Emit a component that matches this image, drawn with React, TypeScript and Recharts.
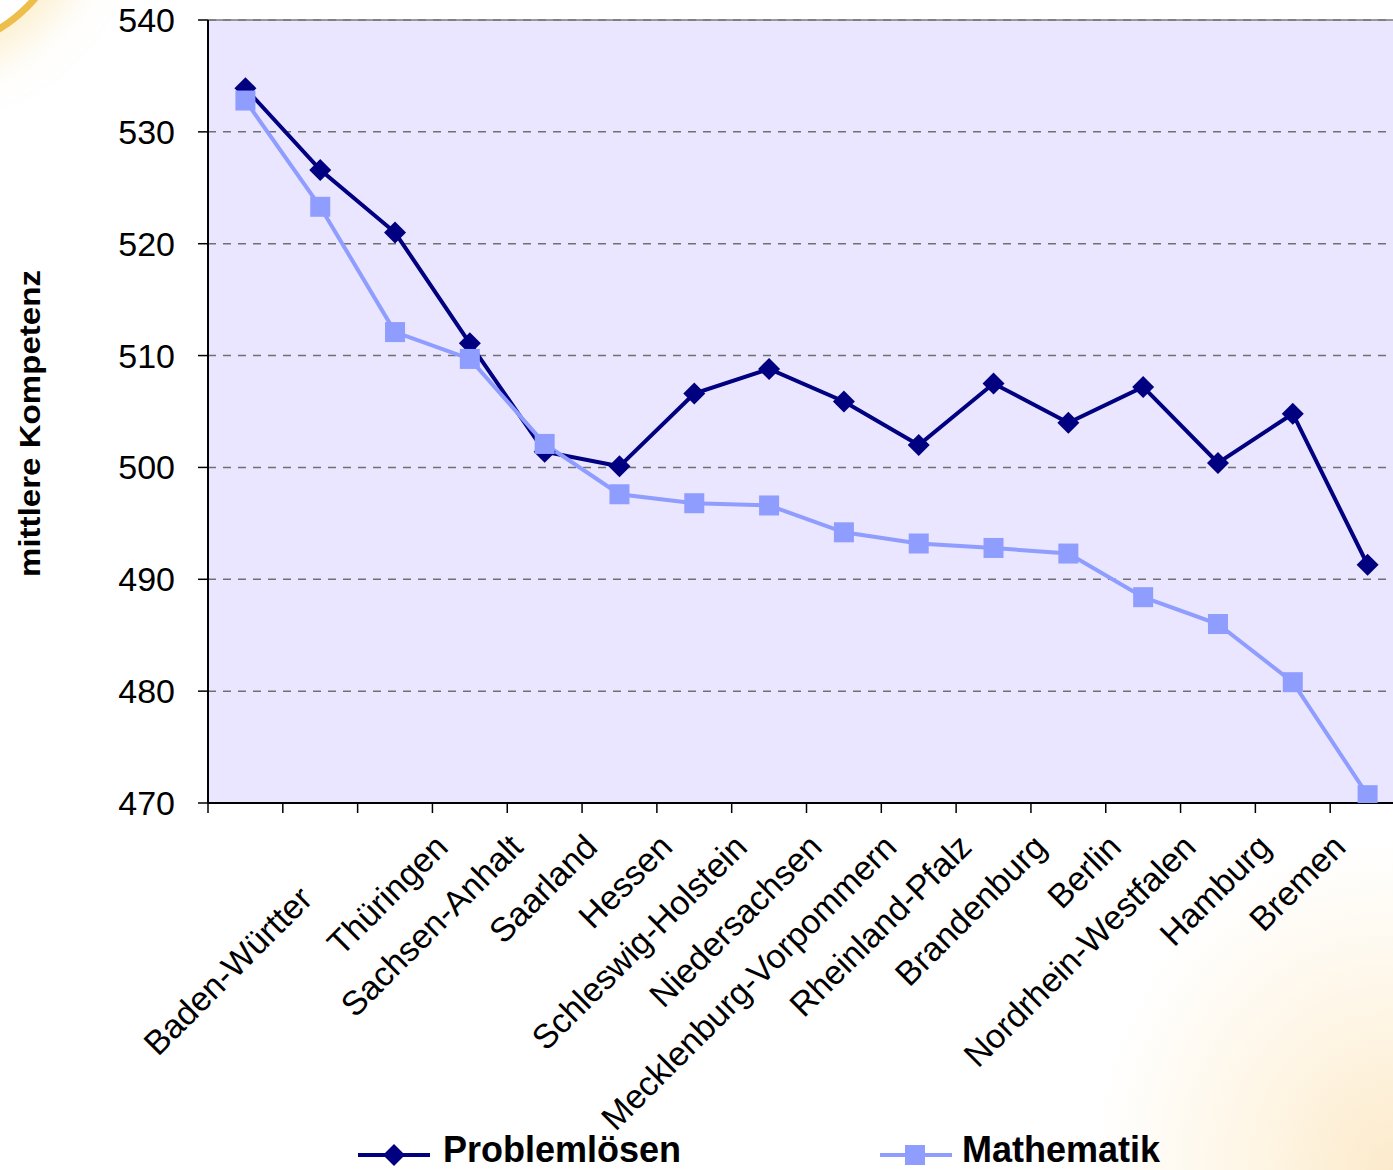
import { LineChart, Line, XAxis, YAxis, CartesianGrid, ReferenceLine } from "recharts";

// order of the chart (sorted by Mathematik)
const STATES = [
  "Bayern",
  "Sachsen",
  "Baden-Württemberg",
  "Thüringen",
  "Sachsen-Anhalt",
  "Saarland",
  "Hessen",
  "Schleswig-Holstein",
  "Niedersachsen",
  "Mecklenburg-Vorpommern",
  "Rheinland-Pfalz",
  "Brandenburg",
  "Berlin",
  "Nordrhein-Westfalen",
  "Hamburg",
  "Bremen",
];

// labels as they appear under the axis
const TICK_LABELS = [
  "",
  "Baden-Württer",
  "",
  "Thüringen",
  "Sachsen-Anhalt",
  "Saarland",
  "Hessen",
  "Schleswig-Holstein",
  "Niedersachsen",
  "Mecklenburg-Vorpommern",
  "Rheinland-Pfalz",
  "Brandenburg",
  "Berlin",
  "Nordrhein-Westfalen",
  "Hamburg",
  "Bremen",
];

const PROBLEMLOESEN = [
  533.9, 526.6, 521.0, 511.1, 501.4, 500.1, 506.6, 508.8, 505.9, 502.0, 507.5,
  504.0, 507.2, 500.4, 504.8, 491.3,
];
const MATHEMATIK = [
  532.8, 523.3, 512.1, 509.7, 502.1, 497.6, 496.8, 496.6, 494.2, 493.2, 492.8,
  492.3, 488.4, 486.0, 480.8, 470.7,
];

const Y_TICKS = [470, 480, 490, 500, 510, 520, 530, 540];

const NAVY = "#000080";
const LIGHT = "#8F9DFF";
const FONT = '"Liberation Sans", Arial, sans-serif';

const data = STATES.map((state, i) => ({
  state,
  problem: PROBLEMLOESEN[i],
  mathe: MATHEMATIK[i],
}));

const Diamond = (props: any) => {
  const { cx, cy } = props;
  if (cx == null || cy == null) return null;
  const r = 11;
  return (
    <polygon
      points={`${cx},${cy - r} ${cx + r},${cy} ${cx},${cy + r} ${cx - r},${cy}`}
      fill={NAVY}
    />
  );
};

const Square = (props: any) => {
  const { cx, cy } = props;
  if (cx == null || cy == null) return null;
  const s = 20;
  return <rect x={cx - s / 2} y={cy - s / 2} width={s} height={s} fill={LIGHT} />;
};

const XTick = (props: any) => {
  const { x, y, payload, index } = props;
  const off = payload && payload.offset ? payload.offset : 0;
  const label = TICK_LABELS[index] ?? "";
  // the pasted first label sits a bit lower in the original slide
  const shifted = index === 1;
  const tx = x - 20 + (shifted ? 14 : 0);
  const ty = y + 46 + (shifted ? 52 : 0);
  return (
    <g>
      <line x1={x - off} x2={x - off} y1={y} y2={y + 10} stroke="#000" strokeWidth={1.5} />
      <text
        x={tx}
        y={ty}
        textAnchor="end"
        transform={`rotate(-45, ${tx}, ${ty})`}
        fontFamily={FONT}
        fontSize={34}
        fill="#000"
      >
        {label}
      </text>
    </g>
  );
};

const YLabel = (props: any) => {
  const { viewBox } = props;
  const cx = 29;
  const cy = viewBox.y + viewBox.height / 2 + 12;
  return (
    <text
      x={cx}
      y={cy}
      transform={`rotate(-90, ${cx}, ${cy})`}
      textAnchor="middle"
      dominantBaseline="central"
      fontFamily={FONT}
      fontWeight="bold"
      fontSize={30}
      textLength={307}
      lengthAdjust="spacingAndGlyphs"
      fill="#000"
    >
      mittlere Kompetenz
    </text>
  );
};

const LegendBox = () => (
  <svg
    width={1393}
    height={50}
    style={{ position: "absolute", left: 0, top: 1120 }}
  >
    <line x1={358} x2={430} y1={35} y2={35} stroke={NAVY} strokeWidth={4} />
    <Diamond cx={394} cy={35} />
    <text x={443} y={42} fontFamily={FONT} fontWeight="bold" fontSize={36} fill="#000">
      Problemlösen
    </text>
    <line x1={880} x2={952} y1={35} y2={35} stroke={LIGHT} strokeWidth={4} />
    <Square cx={915} cy={35} />
    <text x={962} y={42} fontFamily={FONT} fontWeight="bold" fontSize={36} fill="#000">
      Mathematik
    </text>
  </svg>
);

export default function App() {
  return (
    <div
      style={{
        position: "fixed",
        left: 0,
        top: 0,
        width: 1393,
        height: 1170,
        overflow: "hidden",
        background:
          "radial-gradient(ellipse 300px 330px at 100% 100%, #FCEACB 0%, #FEF5E4 45%, rgba(255,255,255,0) 100%), #fff",
      }}
    >
      {/* corner swoosh of the slide */}
      <div
        style={{
          position: "absolute",
          left: -230,
          top: -250,
          width: 290,
          height: 290,
          borderRadius: "50%",
          border: "7px solid #EDBE4A",
          boxShadow: "0 0 40px 20px rgba(250, 225, 160, 0.5)",
        }}
      />
      <div style={{ position: "absolute", left: 0, top: 0 }}>
        <LineChart
          width={1420}
          height={1170}
          data={data}
          margin={{ top: 20, right: 15, bottom: 0, left: 0 }}
        >
          <CartesianGrid
            vertical={false}
            fill="#EAE6FF"
            fillOpacity={1}
            stroke="#707070"
            strokeWidth={1.5}
            strokeDasharray="8 7"
          />
          <ReferenceLine y={540} stroke="#7a7a7a" strokeWidth={1.5} />
          <YAxis
            width={208}
            domain={[470, 540]}
            ticks={Y_TICKS}
            interval={0}
            allowDataOverflow
            tickSize={10}
            tickMargin={23}
            axisLine={{ stroke: "#000", strokeWidth: 2 }}
            tickLine={{ stroke: "#000", strokeWidth: 1.5 }}
            tick={{ fontFamily: FONT, fontSize: 34, fill: "#000" }}
            label={<YLabel />}
          />
          <Line
            type="linear"
            dataKey="problem"
            stroke={NAVY}
            strokeWidth={4}
            dot={<Diamond />}
            activeDot={false}
            isAnimationActive={false}
          />
          <Line
            type="linear"
            dataKey="mathe"
            stroke={LIGHT}
            strokeWidth={4}
            dot={<Square />}
            activeDot={false}
            isAnimationActive={false}
          />
          <XAxis
            dataKey="state"
            scale="band"
            interval={0}
            height={367}
            tickSize={0}
            tickMargin={0}
            tickLine={false}
            axisLine={{ stroke: "#000", strokeWidth: 2 }}
            tick={<XTick />}
          />
        </LineChart>
      </div>
      <LegendBox />
    </div>
  );
}
